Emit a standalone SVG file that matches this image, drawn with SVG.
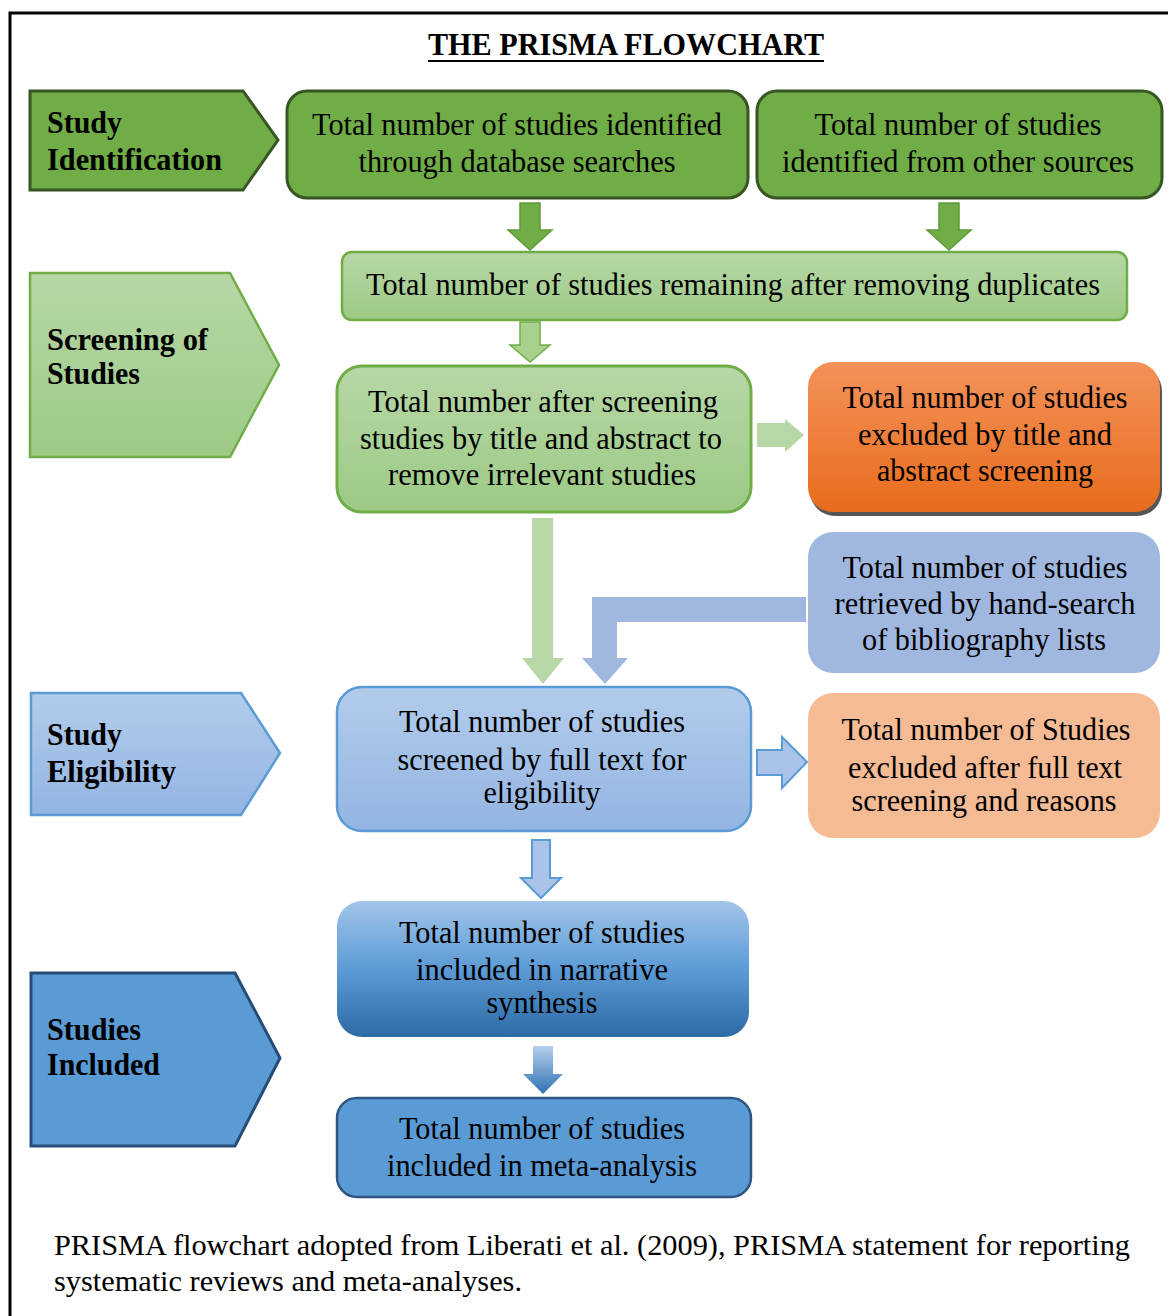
<svg xmlns="http://www.w3.org/2000/svg" width="1168" height="1316" viewBox="0 0 1168 1316">
<defs>
<linearGradient id="gLight" x1="0" y1="0" x2="0" y2="1"><stop offset="0" stop-color="#B7D7A6"/><stop offset="1" stop-color="#9CCA85"/></linearGradient>
<linearGradient id="bLight" x1="0" y1="0" x2="0" y2="1"><stop offset="0" stop-color="#B2CCEB"/><stop offset="1" stop-color="#93B4E2"/></linearGradient>
<linearGradient id="bDark" x1="0" y1="0" x2="0" y2="1"><stop offset="0" stop-color="#A2C5E9"/><stop offset="0.5" stop-color="#5C9BD6"/><stop offset="1" stop-color="#2D6AA6"/></linearGradient>
<linearGradient id="bArrow" x1="0" y1="0" x2="0" y2="1"><stop offset="0" stop-color="#B5CFEC"/><stop offset="1" stop-color="#2E72B4"/></linearGradient>
<linearGradient id="orange" x1="0" y1="0" x2="0" y2="1"><stop offset="0" stop-color="#F4925A"/><stop offset="1" stop-color="#E86C1C"/></linearGradient>
<style>
text{font-family:'Liberation Serif','DejaVu Serif',serif;fill:#000}
.lbl{font-size:31px;font-weight:bold}
.bx{font-size:32px;text-anchor:middle}
.cap{font-size:30px}
</style>
</defs>
<rect width="1168" height="1316" fill="#fff"/>
<path d="M10 1316 V13 H1168" fill="none" stroke="#000" stroke-width="3"/>
<g font-family="Liberation Serif, serif">
<text x="626" y="55" class="lbl" style="font-size:32px" text-anchor="middle" textLength="396" lengthAdjust="spacingAndGlyphs">THE PRISMA FLOWCHART</text>
<line x1="428" y1="61" x2="824" y2="61" stroke="#000" stroke-width="2"/>

<g id="connectors">
<path d="M520 203 H540 V230 H552 L530 250 L508 230 H520 Z" fill="#70AD47" stroke="#5E9A3A" stroke-width="1.5"/>
<path d="M939 203 H959 V230 H971 L949 250 L927 230 H939 Z" fill="#70AD47" stroke="#5E9A3A" stroke-width="1.5"/>
<path d="M520 322 H540 V345 H550 L530 362 L510 345 H520 Z" fill="#A9D18E" stroke="#70AD47" stroke-width="1.5"/>
<path d="M757 423 H785 V419 L804 435 L785 452 V447 H757 Z" fill="#B7D7A6"/>
<path d="M532 518 H553 V658 H564 L543 684 L522 658 H532 Z" fill="#B7D7A6"/>
<path d="M806 597 V622 H617 V658 H628 L605 684 L582 658 H592 V597 Z" fill="#A0B8E0"/>
<path d="M757 750 H782 V737 L807 762 L782 788 V775 H757 Z" fill="#A9C4E8" stroke="#5B9BD5" stroke-width="2"/>
<path d="M532 840 H550 V878 H561 L541 898 L521 878 H532 Z" fill="#A9C4E8" stroke="#5B9BD5" stroke-width="2"/>
<path d="M533 1046 H553 V1074 H563 L543 1094 L523 1074 H533 Z" fill="url(#bArrow)"/>
</g>

<g id="lbl-identification">
<path d="M30 91 H243 L278 140 L243 190 H30 Z" fill="#70AD47" stroke="#375623" stroke-width="3"/>
<text x="47" y="133" class="lbl" textLength="75" lengthAdjust="spacingAndGlyphs">Study</text>
<text x="47" y="170" class="lbl" textLength="175" lengthAdjust="spacingAndGlyphs">Identification</text>
</g>
<g id="lbl-screening">
<path d="M30 273 H230 L279 365 L230 457 H30 Z" fill="url(#gLight)" stroke="#70AD47" stroke-width="2.5"/>
<text x="47" y="350" class="lbl" textLength="161" lengthAdjust="spacingAndGlyphs">Screening of</text>
<text x="47" y="384" class="lbl" textLength="93" lengthAdjust="spacingAndGlyphs">Studies</text>
</g>
<g id="lbl-eligibility">
<path d="M31 693 H241 L280 753 L241 815 H31 Z" fill="url(#bLight)" stroke="#5B9BD5" stroke-width="2.5"/>
<text x="47" y="745" class="lbl" textLength="75" lengthAdjust="spacingAndGlyphs">Study</text>
<text x="47" y="782" class="lbl" textLength="129" lengthAdjust="spacingAndGlyphs">Eligibility</text>
</g>
<g id="lbl-included">
<path d="M31 973 H235 L280 1058 L235 1146 H31 Z" fill="#5B9BD5" stroke="#264D78" stroke-width="3"/>
<text x="47" y="1040" class="lbl" textLength="94" lengthAdjust="spacingAndGlyphs">Studies</text>
<text x="47" y="1075" class="lbl" textLength="113" lengthAdjust="spacingAndGlyphs">Included</text>
</g>

<g id="n-database">
<rect x="287" y="91" width="461" height="107" rx="20" fill="#70AD47" stroke="#375623" stroke-width="3"/>
<text x="517" y="135" class="bx" textLength="410" lengthAdjust="spacingAndGlyphs">Total number of studies identified</text>
<text x="517" y="172" class="bx" textLength="317" lengthAdjust="spacingAndGlyphs">through database searches</text>
</g>
<g id="n-other">
<rect x="757" y="91" width="405" height="107" rx="20" fill="#70AD47" stroke="#375623" stroke-width="3"/>
<text x="958" y="135" class="bx" textLength="287" lengthAdjust="spacingAndGlyphs">Total number of studies</text>
<text x="958" y="172" class="bx" textLength="352" lengthAdjust="spacingAndGlyphs">identified from other sources</text>
</g>
<g id="n-duplicates">
<rect x="342" y="252" width="785" height="68" rx="10" fill="url(#gLight)" stroke="#70AD47" stroke-width="2.5"/>
<text x="733" y="295" class="bx" textLength="734" lengthAdjust="spacingAndGlyphs">Total number of studies remaining after removing duplicates</text>
</g>
<g id="n-screening">
<rect x="337" y="366" width="414" height="146" rx="25" fill="url(#gLight)" stroke="#70AD47" stroke-width="3"/>
<text x="543" y="412" class="bx" textLength="350" lengthAdjust="spacingAndGlyphs">Total number after screening</text>
<text x="541" y="449" class="bx" textLength="362" lengthAdjust="spacingAndGlyphs">studies by title and abstract to</text>
<text x="542" y="485" class="bx" textLength="308" lengthAdjust="spacingAndGlyphs">remove irrelevant studies</text>
</g>
<g id="n-excluded-title">
<rect x="810" y="366" width="352" height="150" rx="25" fill="#555"/>
<rect x="808" y="362" width="352" height="150" rx="25" fill="url(#orange)"/>
<text x="985" y="408" class="bx" textLength="285" lengthAdjust="spacingAndGlyphs">Total number of studies</text>
<text x="985" y="445" class="bx" textLength="254" lengthAdjust="spacingAndGlyphs">excluded by title and</text>
<text x="985" y="481" class="bx" textLength="216" lengthAdjust="spacingAndGlyphs">abstract screening</text>
</g>
<g id="n-handsearch">
<rect x="808" y="532" width="352" height="141" rx="25" fill="#A0B8E0"/>
<text x="985" y="578" class="bx" textLength="285" lengthAdjust="spacingAndGlyphs">Total number of studies</text>
<text x="985" y="614" class="bx" textLength="301" lengthAdjust="spacingAndGlyphs">retrieved by hand-search</text>
<text x="984" y="650" class="bx" textLength="244" lengthAdjust="spacingAndGlyphs">of bibliography lists</text>
</g>
<g id="n-fulltext">
<rect x="337" y="687" width="414" height="144" rx="25" fill="url(#bLight)" stroke="#5B9BD5" stroke-width="2.5"/>
<text x="542" y="732" class="bx" textLength="286" lengthAdjust="spacingAndGlyphs">Total number of studies</text>
<text x="542" y="770" class="bx" textLength="289" lengthAdjust="spacingAndGlyphs">screened by full text for</text>
<text x="542" y="803" class="bx" textLength="117" lengthAdjust="spacingAndGlyphs">eligibility</text>
</g>
<g id="n-excluded-full">
<rect x="808" y="693" width="352" height="145" rx="25" fill="#F5BB94"/>
<text x="986" y="740" class="bx" textLength="289" lengthAdjust="spacingAndGlyphs">Total number of Studies</text>
<text x="985" y="778" class="bx" textLength="274" lengthAdjust="spacingAndGlyphs">excluded after full text</text>
<text x="984" y="811" class="bx" textLength="265" lengthAdjust="spacingAndGlyphs">screening and reasons</text>
</g>
<g id="n-narrative">
<rect x="337" y="901" width="412" height="136" rx="25" fill="url(#bDark)"/>
<text x="542" y="943" class="bx" textLength="286" lengthAdjust="spacingAndGlyphs">Total number of studies</text>
<text x="542" y="980" class="bx" textLength="252" lengthAdjust="spacingAndGlyphs">included in narrative</text>
<text x="542" y="1013" class="bx" textLength="111" lengthAdjust="spacingAndGlyphs">synthesis</text>
</g>
<g id="n-meta">
<rect x="337" y="1098" width="414" height="99" rx="20" fill="#5B9BD5" stroke="#2F5582" stroke-width="2.5"/>
<text x="542" y="1139" class="bx" textLength="286" lengthAdjust="spacingAndGlyphs">Total number of studies</text>
<text x="542" y="1176" class="bx" textLength="310" lengthAdjust="spacingAndGlyphs">included in meta-analysis</text>
</g>

<text x="54" y="1255" class="cap" textLength="1076" lengthAdjust="spacingAndGlyphs">PRISMA flowchart adopted from Liberati et al. (2009), PRISMA statement for reporting</text>
<text x="54" y="1291" class="cap" textLength="468" lengthAdjust="spacingAndGlyphs">systematic reviews and meta-analyses.</text>
</g>
</svg>
